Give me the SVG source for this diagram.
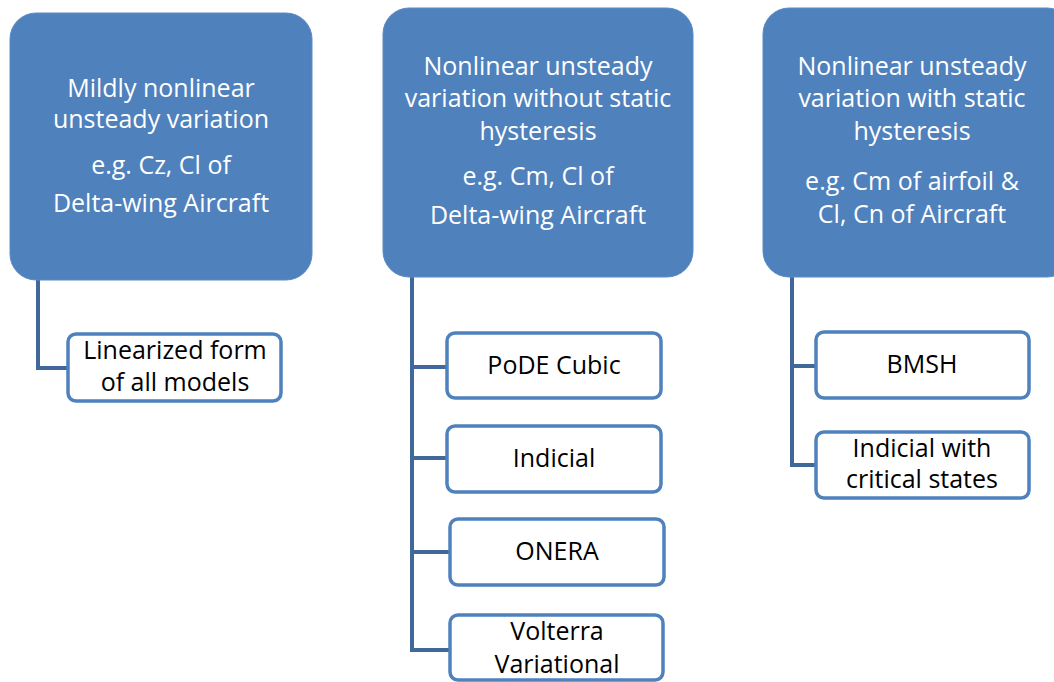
<svg xmlns="http://www.w3.org/2000/svg" width="1054" height="682" viewBox="0 0 1054 682">
<style>
.top{fill:#4F81BD;stroke:#5B8BC4;stroke-width:1}
.child{fill:#FFFFFF;stroke:#4F81BD;stroke-width:3.5}
.conn{fill:none;stroke:#41689A;stroke-width:4}
.tt{font-family:"Open Sans","Liberation Sans",sans-serif;font-size:25px;fill:#FFFFFF;text-anchor:middle}
.ct{font-family:"Open Sans","Liberation Sans",sans-serif;font-size:25px;fill:#000000;text-anchor:middle}
</style>
<rect width="1054" height="682" fill="#FFFFFF"/>
<g id="connectors">
<path class="conn" d="M38,280 V368 H68"/>
<path class="conn" d="M412,277 V650 H450 M412,367 H447 M412,458 H447 M412,552 H450"/>
<path class="conn" d="M792,277 V465 H816 M792,366 H816"/>
</g>
<g id="n1">
<rect class="top" x="10" y="13" width="302" height="267" rx="26"/>
<text class="tt" x="161" y="97">Mildly nonlinear</text>
<text class="tt" x="161" y="128">unsteady variation</text>
<text class="tt" x="161" y="174">e.g. Cz, Cl of</text>
<text class="tt" x="161" y="212">Delta-wing Aircraft</text>
</g>
<g id="n2">
<rect class="top" x="383" y="8" width="310" height="269" rx="26"/>
<text class="tt" x="538" y="75">Nonlinear unsteady</text>
<text class="tt" x="538" y="107">variation without static</text>
<text class="tt" x="538" y="140">hysteresis</text>
<text class="tt" x="538" y="185">e.g. Cm, Cl of</text>
<text class="tt" x="538" y="224">Delta-wing Aircraft</text>
</g>
<g id="n3">
<rect class="top" x="763" y="8" width="310" height="269" rx="26"/>
<text class="tt" x="912" y="75">Nonlinear unsteady</text>
<text class="tt" x="912" y="107">variation with static</text>
<text class="tt" x="912" y="140">hysteresis</text>
<text class="tt" x="912" y="190">e.g. Cm of airfoil &amp;</text>
<text class="tt" x="912" y="223">Cl, Cn of Aircraft</text>
</g>
<g id="c1">
<rect class="child" x="68" y="334" width="213" height="67" rx="8"/>
<text class="ct" x="175" y="359">Linearized form</text>
<text class="ct" x="175" y="391">of all models</text>
</g>
<g id="c2">
<rect class="child" x="447" y="333" width="214" height="65" rx="8"/>
<text class="ct" x="554" y="374">PoDE Cubic</text>
</g>
<g id="c3">
<rect class="child" x="447" y="426" width="214" height="66" rx="8"/>
<text class="ct" x="554" y="467">Indicial</text>
</g>
<g id="c4">
<rect class="child" x="450" y="519" width="214" height="66" rx="8"/>
<text class="ct" x="557" y="560">ONERA</text>
</g>
<g id="c5">
<rect class="child" x="450" y="615" width="213" height="65" rx="8"/>
<text class="ct" x="557" y="640">Volterra</text>
<text class="ct" x="557" y="673">Variational</text>
</g>
<g id="c6">
<rect class="child" x="816" y="332" width="213" height="66" rx="8"/>
<text class="ct" x="922" y="373">BMSH</text>
</g>
<g id="c7">
<rect class="child" x="816" y="432" width="213" height="66" rx="8"/>
<text class="ct" x="922" y="457">Indicial with</text>
<text class="ct" x="922" y="488">critical states</text>
</g>
</svg>
